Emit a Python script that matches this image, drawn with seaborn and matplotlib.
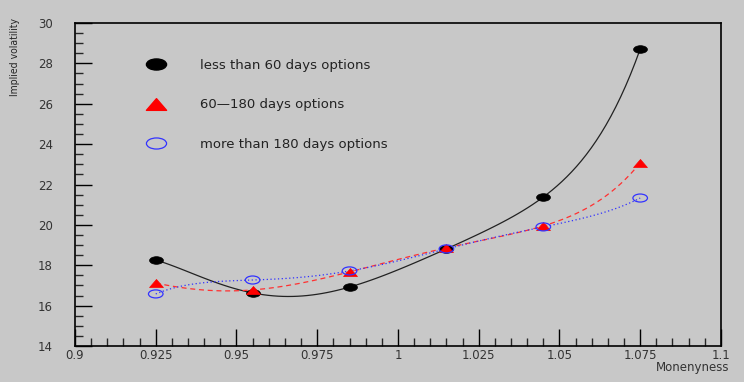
import seaborn as sns
import matplotlib.pyplot as plt
import pandas as pd
from matplotlib.path import Path
from matplotlib.transforms import Affine2D
from matplotlib.ticker import MultipleLocator
from matplotlib.lines import Line2D

# moneyness and implied volatility
moneyness = [0.925, 0.955, 0.985, 1.015, 1.045, 1.075]
short_term = [18.26, 16.63, 16.92, 18.81, 21.38, 28.71]
mid_term = [17.12, 16.78, 17.67, 18.86, 19.95, 23.07]
long_term = [16.58, 17.27, 17.72, 18.81, 19.90, 21.33]

labels = ["less than 60 days options", "60\u2014180 days options", "more than 180 days options"]
xtick_labels = ["0.9", "0.925", "0.95", "0.975", "1", "1.025", "1.05", "1.075", "1.1"]

df = pd.DataFrame({"Moneyness": moneyness, "short": short_term, "mid": mid_term, "long": long_term})

# ROOT-like squashed markers
ellipse = Path.unit_circle().transformed(Affine2D().scale(1.0, 0.55))
triangle = Path([(-1, -0.58), (1, -0.58), (0, 0.58), (-1, -0.58)],
                [Path.MOVETO, Path.LINETO, Path.LINETO, Path.CLOSEPOLY])

sns.set_style("ticks")
plt.rcParams["font.family"] = ["DejaVu Sans"]
bg = "#c8c8c8"
txt = "#333333"

fig = plt.figure(figsize=(7.44, 3.82), dpi=100, facecolor=bg)
ax = fig.add_axes([0.1008, 0.0942, 0.8682, 0.8456], facecolor=bg)

# smooth curves through the points
sns.regplot(x="Moneyness", y="short", data=df, order=5, ci=None, scatter=False,
            line_kws={"color": "#222222", "lw": 0.9, "ls": "-"}, ax=ax)
sns.regplot(x="Moneyness", y="mid", data=df, order=5, ci=None, scatter=False,
            line_kws={"color": "#ff3030", "lw": 0.9, "ls": (0, (4, 3))}, ax=ax)
sns.regplot(x="Moneyness", y="long", data=df, order=5, ci=None, scatter=False,
            line_kws={"color": "#3030ff", "lw": 0.9, "ls": (0, (1, 2))}, ax=ax)

sns.scatterplot(x="Moneyness", y="short", data=df, marker=ellipse, s=100,
                color="black", edgecolor="black", linewidth=0.5, ax=ax, zorder=5)
sns.scatterplot(x="Moneyness", y="mid", data=df, marker=triangle, s=100,
                color="red", edgecolor="red", linewidth=0.5, ax=ax, zorder=6)
sns.scatterplot(x="Moneyness", y="long", data=df, marker=ellipse, s=110,
                facecolor="none", edgecolor="#3333ff", linewidth=0.9, ax=ax, zorder=7)

ax.set_xlim(0.9, 1.1)
ax.set_ylim(14, 30)
ax.xaxis.set_minor_locator(MultipleLocator(0.005))
ax.yaxis.set_major_locator(MultipleLocator(2))
ax.yaxis.set_minor_locator(MultipleLocator(0.5))
ax.set_xticks([0.9, 0.925, 0.95, 0.975, 1.0, 1.025, 1.05, 1.075, 1.1])
ax.set_xticklabels(xtick_labels)
ax.tick_params(which="major", direction="in", length=12, width=1.0, labelsize=8.5,
               colors="black", labelcolor=txt)
ax.tick_params(axis="x", which="major", pad=2)
ax.tick_params(axis="y", which="major", pad=16)
ax.tick_params(which="minor", direction="in", length=6, width=1.0)
for s in ax.spines.values():
    s.set_visible(True)
    s.set_linewidth(1.2)
    s.set_color("black")

ax.set_xlabel("")
ax.set_ylabel("")
fig.text(0.981, 0.038, "Monenyness", ha="right", va="center", fontsize=8.5, color=txt)
fig.text(0.020, 0.851, "Implied volatility", rotation=90, ha="center", va="center",
         fontsize=7.5, fontstretch="condensed",
         family=["Liberation Sans Narrow", "DejaVu Sans"])

handles = [
    Line2D([], [], ls="none", marker=ellipse, markersize=14.5, color="black"),
    Line2D([], [], ls="none", marker=triangle, markersize=14.5, color="red"),
    Line2D([], [], ls="none", marker=ellipse, markersize=14.5, markerfacecolor="none",
           markeredgecolor="#3333ff", markeredgewidth=0.9),
]
ax.legend(handles, labels, frameon=False, loc="upper left", bbox_to_anchor=(0.087, 0.925),
          fontsize=9.5, labelspacing=2.0, handletextpad=2.3, labelcolor="#222222")

fig.savefig("out.png", dpi=100, facecolor=bg)
